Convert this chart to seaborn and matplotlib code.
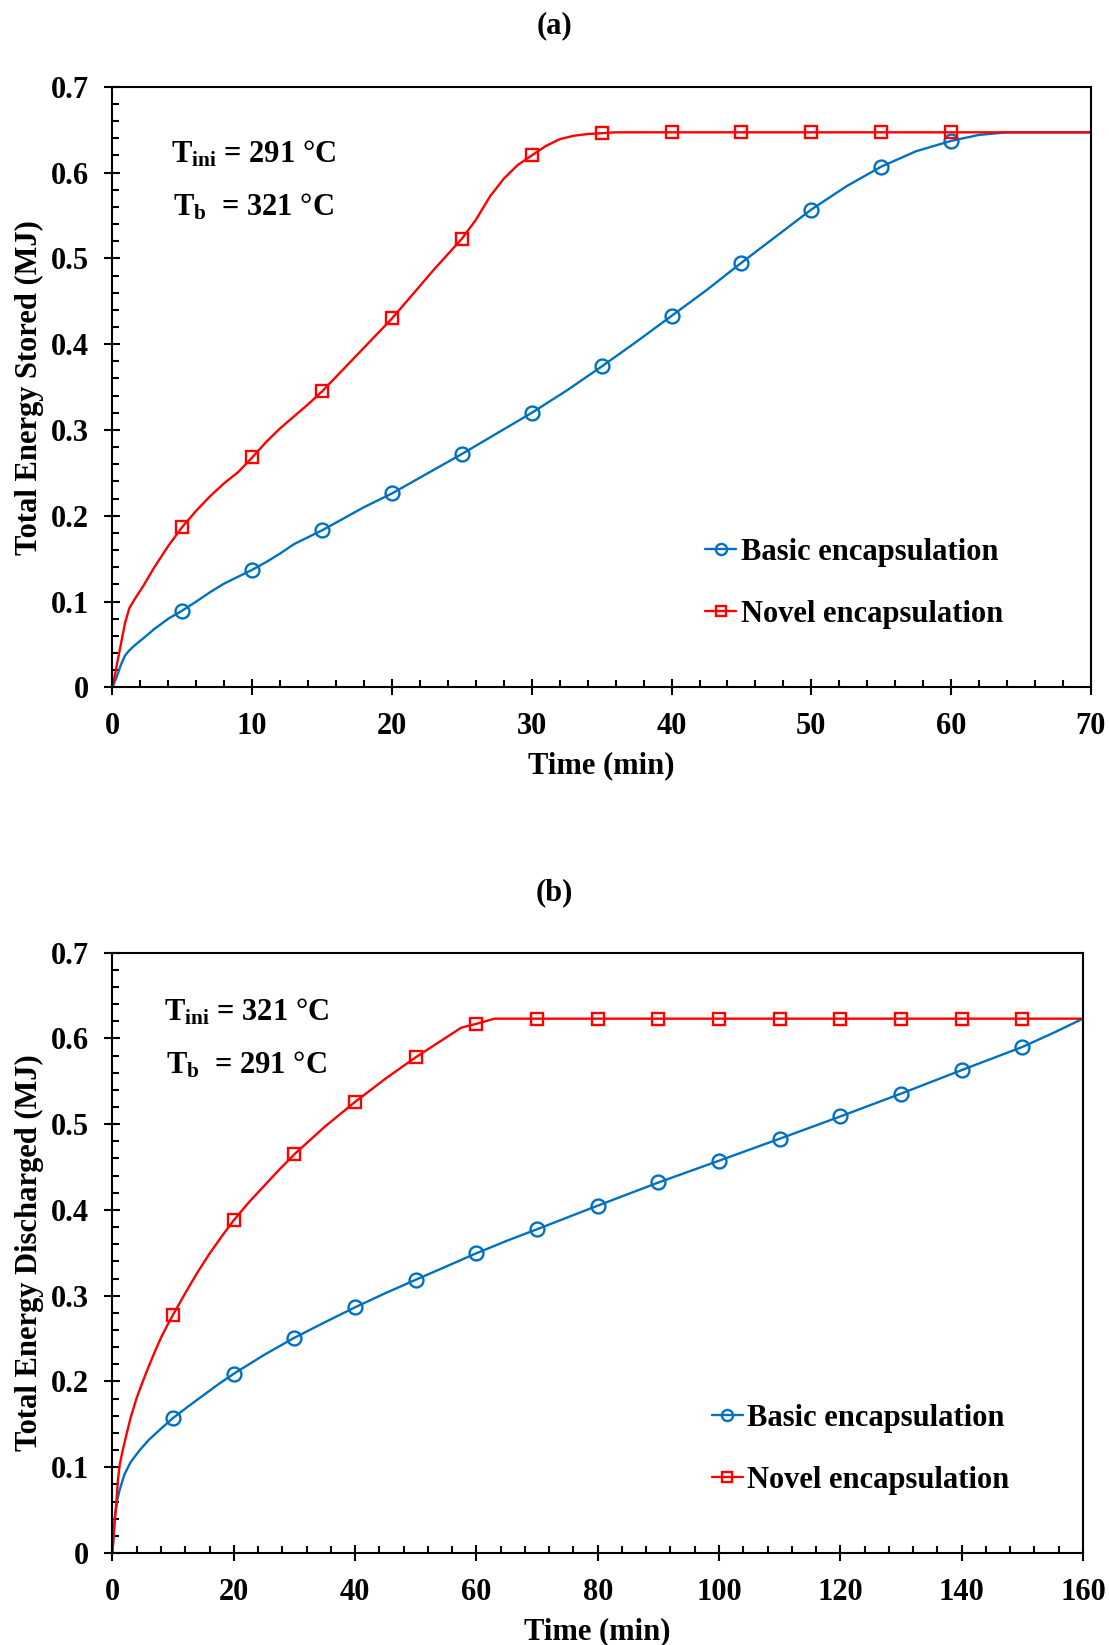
import numpy as np
import matplotlib
matplotlib.use("Agg")
import matplotlib.pyplot as plt
from matplotlib.lines import Line2D
from matplotlib.ticker import MultipleLocator, FormatStrFormatter
import seaborn as sns

# ---------------- (a) charging: total energy stored ----------------
charge_novel_time = [0, 0.3, 0.6, 0.9, 1.2, 1.6, 2.2, 3, 4,
                     5, 6, 7, 8, 9, 10, 11, 12, 13, 14, 15, 16, 17, 18, 19, 20,
                     21, 22, 23, 24, 25, 26, 27, 28, 29, 30, 31, 32, 33, 34, 35, 36,
                     40, 45, 50, 55, 60, 65, 70]
charge_novel_energy = [0, 0.025, 0.050, 0.075, 0.092, 0.103, 0.118, 0.140, 0.165,
                       0.187, 0.206, 0.223, 0.238, 0.251, 0.268, 0.286, 0.302, 0.316, 0.330,
                       0.345, 0.362, 0.379, 0.396, 0.413, 0.430,
                       0.449, 0.468, 0.487, 0.505, 0.523, 0.545, 0.572, 0.593, 0.609, 0.620,
                       0.631, 0.639, 0.643, 0.645, 0.646, 0.647,
                       0.647, 0.647, 0.647, 0.647, 0.647, 0.647, 0.647]

charge_basic_time = [0, 0.3, 0.6, 0.9, 1.2, 1.6, 2.2, 3, 4,
                     5, 6, 7, 8, 9, 10, 11, 12, 13, 14, 15, 16, 17, 18, 19, 20,
                     22.5, 25, 27.5, 30, 32.5, 35, 37.5, 40, 42.5, 45, 47.5, 50,
                     52.5, 55, 57.5, 60, 62, 64, 67, 70]
charge_basic_energy = [0, 0.012, 0.026, 0.037, 0.043, 0.049, 0.057, 0.068, 0.080,
                       0.0895, 0.100, 0.111, 0.121, 0.129, 0.137, 0.146, 0.156, 0.167,
                       0.175, 0.183, 0.192, 0.201, 0.210, 0.218, 0.226,
                       0.249, 0.272, 0.296, 0.320, 0.346, 0.374, 0.403, 0.433, 0.463,
                       0.495, 0.526, 0.557, 0.584, 0.607, 0.625, 0.637, 0.644, 0.647,
                       0.647, 0.647]
charge_marker_times = [5, 10, 15, 20, 25, 30, 35, 40, 45, 50, 55, 60]

# ---------------- (b) discharging: total energy discharged ----------------
discharge_novel_time = [0, 0.3, 0.6, 0.9, 1.2, 1.6, 2.2, 3, 4,
                        5, 6, 7, 8, 9, 10, 12, 14, 16, 18, 20,
                        22.5, 25, 27.5, 30, 35, 40, 45, 50, 55,
                        57.5, 60, 61.5, 63,
                        70, 80, 90, 100, 110, 120, 130, 140, 150, 160]
discharge_novel_energy = [0, 0.030, 0.055, 0.085, 0.103, 0.117, 0.135, 0.158, 0.181,
                          0.200, 0.218, 0.235, 0.251, 0.265, 0.278, 0.303, 0.327, 0.349,
                          0.369, 0.388,
                          0.409, 0.428, 0.447, 0.465, 0.497, 0.526, 0.553, 0.578, 0.601,
                          0.6125, 0.617, 0.620, 0.623,
                          0.623, 0.623, 0.623, 0.623, 0.623, 0.623, 0.623, 0.623, 0.623,
                          0.623]

discharge_basic_time = [0, 0.2, 0.4, 0.8, 1.2, 2, 3, 4.5, 6, 8,
                        10, 12.5, 15, 17.5, 20,
                        25, 30, 35, 40, 45, 50, 55, 60, 65, 70,
                        80, 90, 100, 110, 120, 130, 140, 150, 155, 160]
discharge_basic_energy = [0, 0.025, 0.043, 0.062, 0.074, 0.092, 0.106, 0.120, 0.132, 0.145,
                          0.1575, 0.171, 0.184, 0.197, 0.209,
                          0.231, 0.251, 0.269, 0.2865, 0.303, 0.3186, 0.334, 0.3495, 0.364,
                          0.3775,
                          0.405, 0.432, 0.4574, 0.483, 0.509, 0.5356, 0.563, 0.590, 0.606,
                          0.623]
discharge_marker_times = [10, 20, 30, 40, 50, 60, 70, 80, 90, 100, 110, 120, 130, 140, 150]

series_labels = ["Basic encapsulation", "Novel encapsulation"]
BLUE = "#0070C0"
RED = "#FF0000"

sns.set_style("white")
plt.rcParams["font.family"] = ["Liberation Serif", "DejaVu Serif"]
plt.rcParams["font.weight"] = "bold"
plt.rcParams["mathtext.fontset"] = "custom"
plt.rcParams["mathtext.rm"] = "Liberation Serif:bold"
plt.rcParams["mathtext.bf"] = "Liberation Serif:bold"
plt.rcParams["mathtext.it"] = "Liberation Serif:bold"
plt.rcParams["axes.edgecolor"] = "black"
plt.rcParams["text.color"] = "black"
plt.rcParams["axes.labelcolor"] = "black"
plt.rcParams["xtick.color"] = "black"
plt.rcParams["ytick.color"] = "black"

FS = 22

fig = plt.figure(figsize=(11.09, 16.45), dpi=100)
ax_a = fig.add_axes([0.1014, 0.5822, 0.8823, 0.3650])
ax_b = fig.add_axes([0.1014, 0.0559, 0.8751, 0.3650])


def draw_series(ax, t, e, marker_times, color, marker, ms):
    t = np.asarray(t, dtype=float)
    e = np.asarray(e, dtype=float)
    mask = np.isin(t, marker_times).tolist()
    sns.lineplot(x=t, y=e, ax=ax, color=color, linewidth=1.7, sort=False,
                 estimator=None, marker=marker, markevery=mask, markersize=ms,
                 markerfacecolor="none", markeredgecolor=color,
                 markeredgewidth=1.7, legend=False)


def style_axes(ax, xmax, xmajor, xminor, ylabel):
    ax.set_xlim(0, xmax)
    ax.set_ylim(0, 0.7)
    ax.xaxis.set_major_locator(MultipleLocator(xmajor))
    ax.xaxis.set_minor_locator(MultipleLocator(xminor))
    ax.yaxis.set_major_locator(MultipleLocator(0.1))
    ax.yaxis.set_minor_locator(MultipleLocator(0.02))
    ax.yaxis.set_major_formatter(FormatStrFormatter("%g"))
    ax.xaxis.set_major_formatter(FormatStrFormatter("%g"))
    for s in ax.spines.values():
        s.set_visible(True)
        s.set_linewidth(1.5)
        s.set_color("black")
    ax.tick_params(which="major", direction="inout", length=12, width=1.5,
                   labelsize=FS, top=False, right=False, bottom=True, left=True,
                   color="black", labelcolor="black")
    ax.tick_params(axis="x", which="major", pad=12)
    ax.tick_params(axis="y", which="major", pad=11)
    ax.tick_params(which="minor", direction="in", length=5, width=1.5,
                   top=False, right=False, bottom=True, left=True, color="black")
    for lab in ax.get_xticklabels() + ax.get_yticklabels():
        lab.set_fontweight("bold")
    ax.set_xlabel("Time (min)", fontsize=FS, fontweight="bold", labelpad=7,
                  color="black")
    ax.set_ylabel(ylabel, fontsize=FS, fontweight="bold", labelpad=5,
                  color="black")
    ax.grid(False)


def add_legend(ax, anchor):
    handles = [
        Line2D([], [], color=BLUE, lw=1.7, marker="o", ms=8, mfc="none",
               mec=BLUE, mew=1.7),
        Line2D([], [], color=RED, lw=1.7, marker="s", ms=6.5, mfc="none",
               mec=RED, mew=1.7),
    ]
    leg = ax.legend(handles, series_labels, loc="upper left", bbox_to_anchor=anchor,
                    frameon=False, handlelength=1.0, handletextpad=0.15,
                    labelspacing=1.07, borderpad=0, borderaxespad=0,
                    prop={"size": FS, "weight": "bold"})
    for txt in leg.get_texts():
        txt.set_color("black")


# (a)
draw_series(ax_a, charge_basic_time, charge_basic_energy, charge_marker_times,
            BLUE, "o", 10)
draw_series(ax_a, charge_novel_time, charge_novel_energy, charge_marker_times,
            RED, "s", 8)
style_axes(ax_a, 70, 10, 2, "Total Energy Stored (MJ)")
add_legend(ax_a, (0.606, 0.2485))
ax_a.text(0.060, 0.8747, r"$\mathbf{T_{ini}}$ = 291 °C", transform=ax_a.transAxes,
          fontsize=FS, fontweight="bold", ha="left", va="baseline")
ax_a.text(0.062, 0.786, r"$\mathbf{T_{b}}$  = 321 °C", transform=ax_a.transAxes,
          fontsize=FS, fontweight="bold", ha="left", va="baseline")

# (b)
draw_series(ax_b, discharge_basic_time, discharge_basic_energy, discharge_marker_times,
            BLUE, "o", 10)
draw_series(ax_b, discharge_novel_time, discharge_novel_energy, discharge_marker_times,
            RED, "s", 8)
style_axes(ax_b, 160, 20, 4, "Total Energy Discharged (MJ)")
add_legend(ax_b, (0.618, 0.2483))
ax_b.text(0.0526, 0.887, r"$\mathbf{T_{ini}}$ = 321 °C", transform=ax_b.transAxes,
          fontsize=FS, fontweight="bold", ha="left", va="baseline")
ax_b.text(0.0555, 0.7987, r"$\mathbf{T_{b}}$  = 291 °C", transform=ax_b.transAxes,
          fontsize=FS, fontweight="bold", ha="left", va="baseline")

fig.text(0.5, 1 - 26 / 1645, "(a)", ha="center", va="center", fontsize=FS,
         fontweight="bold")
fig.text(0.5, 1 - 893 / 1645, "(b)", ha="center", va="center", fontsize=FS,
         fontweight="bold")

fig.savefig("out.png", dpi=100, facecolor="white")
